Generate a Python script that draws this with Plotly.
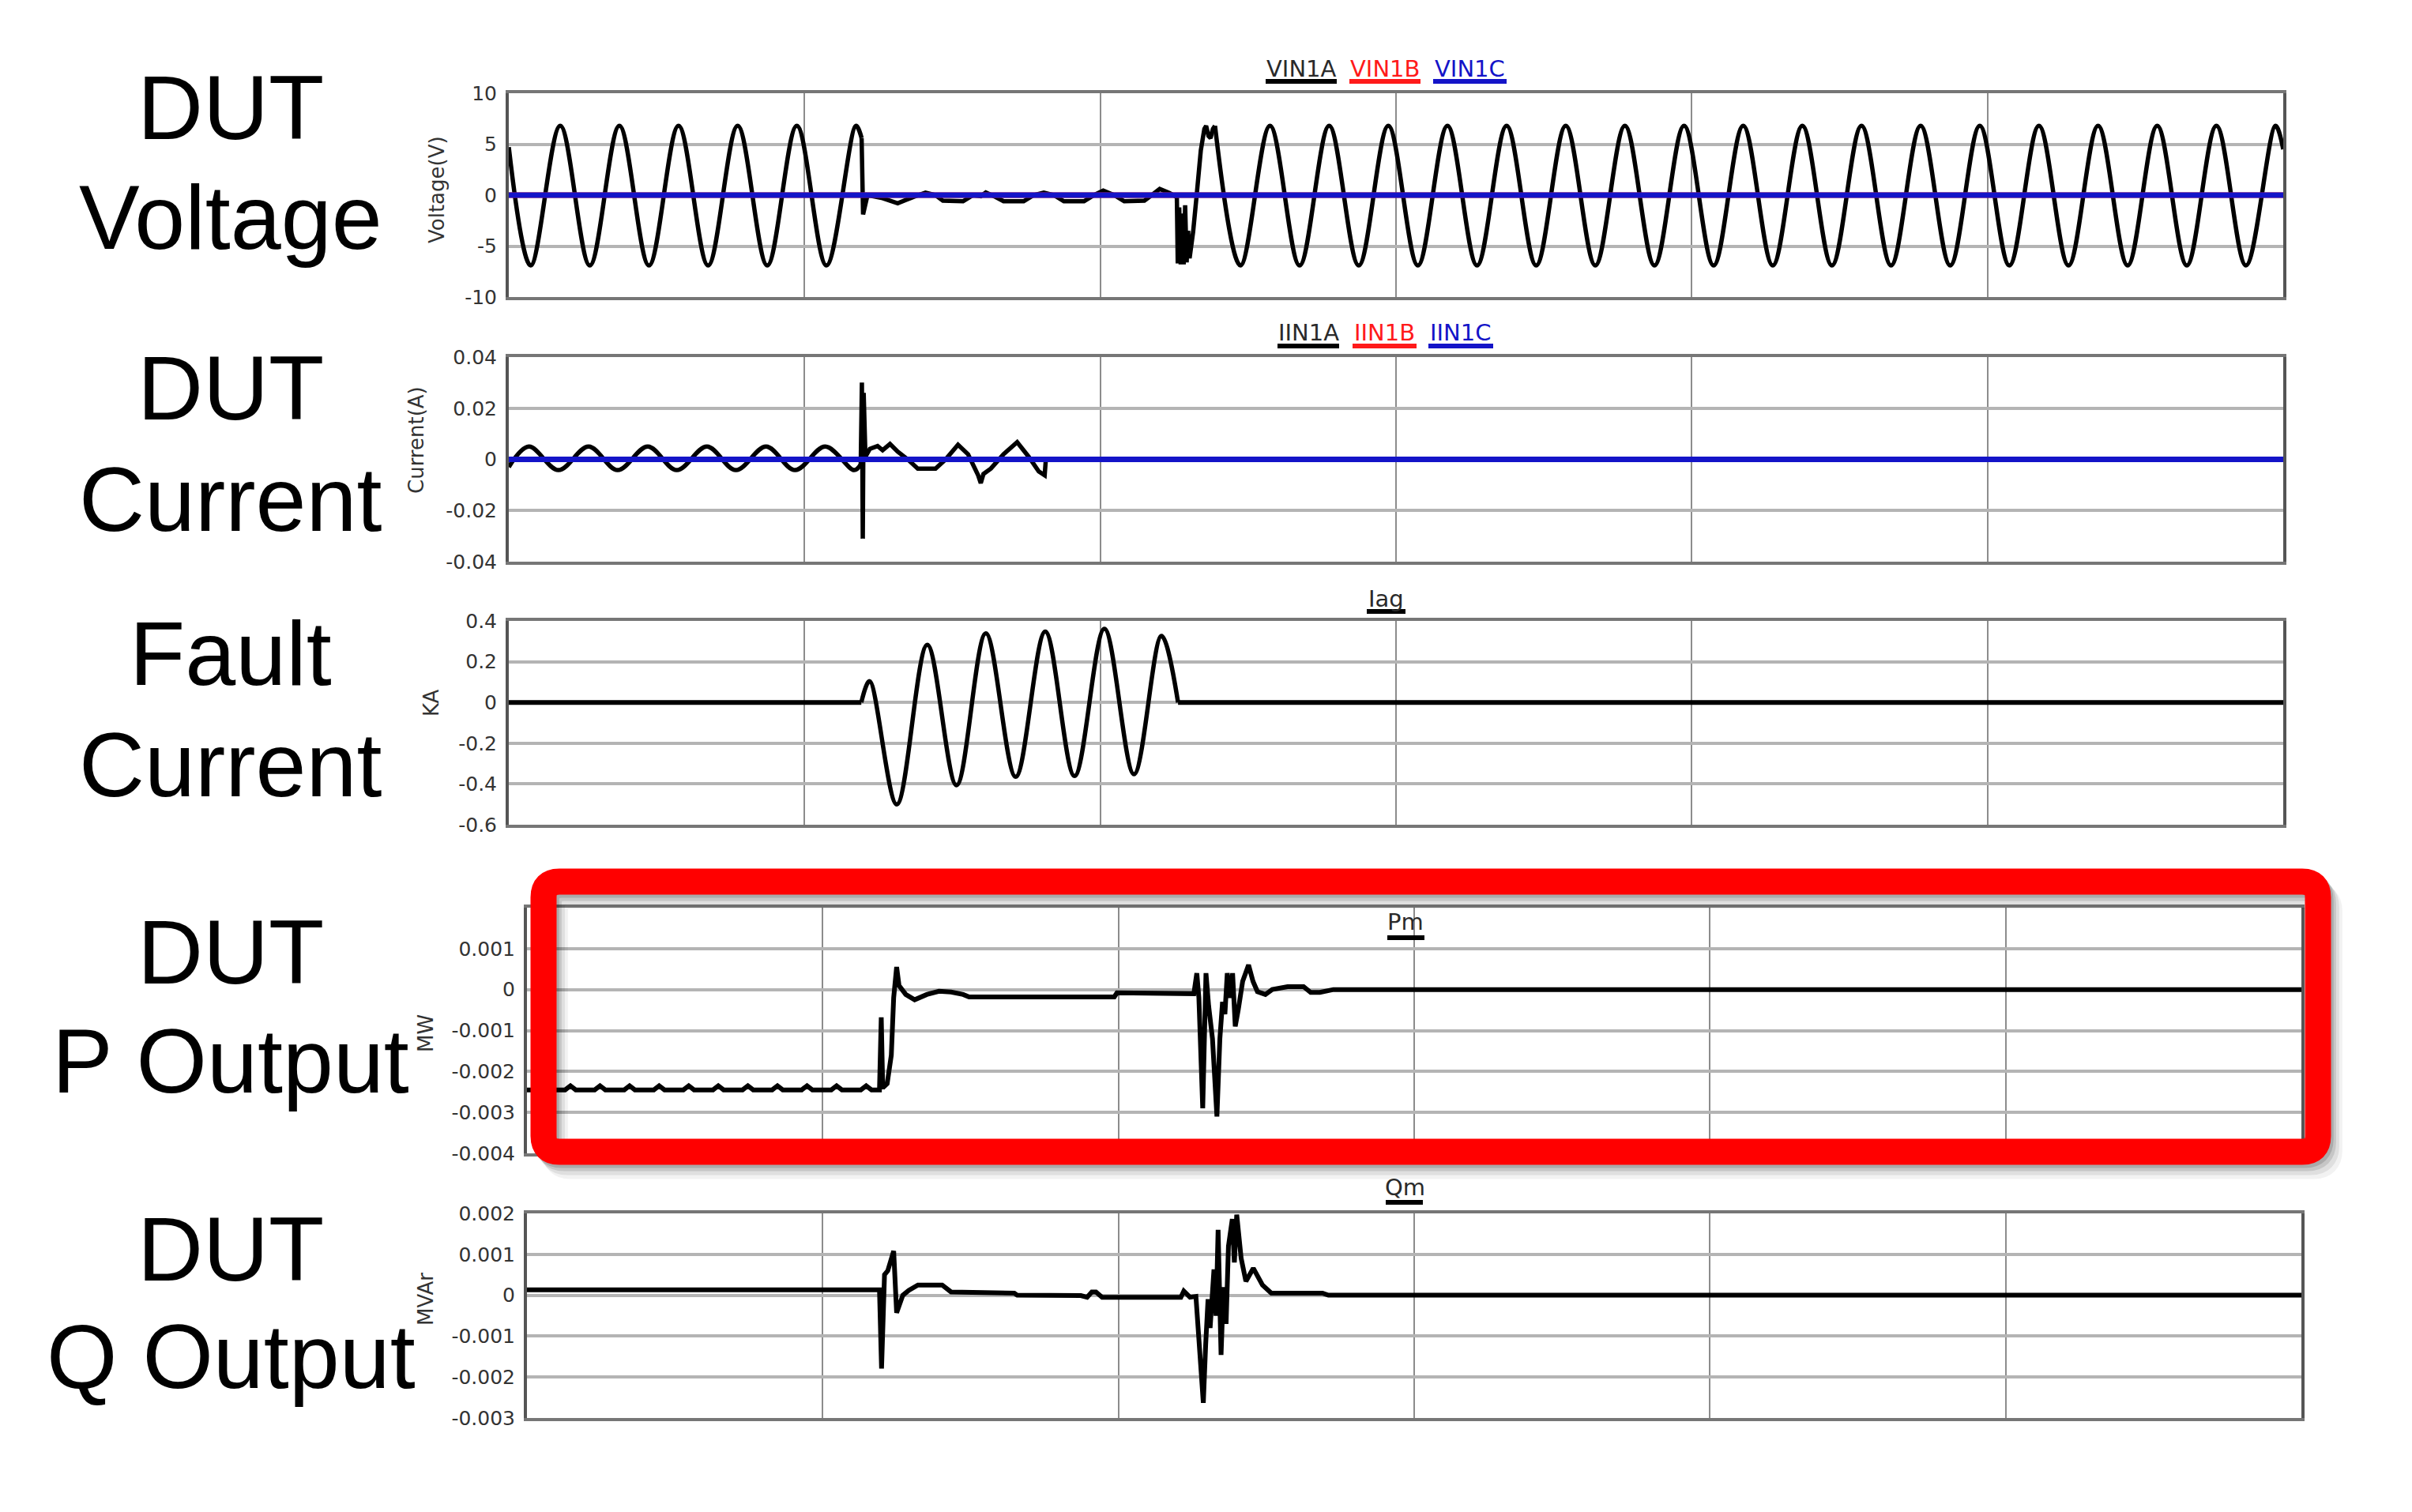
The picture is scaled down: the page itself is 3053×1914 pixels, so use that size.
import plotly.graph_objects as go

# ---- data (time in s, 0.1 s per division) ----
# DUT voltage, phase A (turning points of the wave, fault ripple, reclose burst)
va_pre_t = [0.0, 0.0074, 0.0174, 0.0274, 0.0374, 0.0474, 0.0574, 0.0674, 0.0774,
            0.0874, 0.0974, 0.1074, 0.1174, 0.1193]
va_pre_v = [4.7, -6.9, 6.8, -6.9, 6.8, -6.9, 6.8, -6.9, 6.8, -6.9, 6.8, -6.9, 6.8, 5.6]

va_mid_t = [0.1193, 0.1198, 0.1205, 0.1213, 0.1264, 0.1315, 0.1366, 0.1409, 0.1443, 0.1468,
            0.1536, 0.1570, 0.1596, 0.1613, 0.1647, 0.1673, 0.1741, 0.1775, 0.1809, 0.1843,
            0.1877, 0.1945, 0.1979, 0.2010, 0.2047, 0.2081, 0.2149, 0.2175, 0.2201, 0.2235,
            0.2259, 0.2262, 0.2267, 0.2272, 0.2277, 0.2282, 0.2287, 0.2292, 0.2297, 0.2302,
            0.2314, 0.2326, 0.2340, 0.2352, 0.2358, 0.2366, 0.2373, 0.2381, 0.2388]
va_mid_v = [5.6, -1.9, -1.0, 0.0, -0.3, -0.8, -0.2, 0.25, 0.0, -0.55,
            -0.6, 0.0, -0.1, 0.25, -0.2, -0.6, -0.6, 0.0, 0.25, 0.0,
            -0.6, -0.6, 0.0, 0.45, 0.0, -0.6, -0.55, 0.0, 0.6, 0.2,
            -0.2, -6.7, -1.2, -6.8, -1.8, -6.8, -1.0, -6.6, -3.5, -6.2,
            -3.6, 0.0, 4.4, 6.5, 6.8, 5.8, 5.6, 6.5, 6.8]

va_post_t = [0.2388, 0.2474, 0.2574, 0.2674, 0.2774, 0.2874, 0.2974, 0.3074, 0.3174, 0.3274,
             0.3374, 0.3474, 0.3574, 0.3674, 0.3774, 0.3874, 0.3974, 0.4074, 0.4174, 0.4274,
             0.4374, 0.4474, 0.4574, 0.4674, 0.4774, 0.4874, 0.4974, 0.5074, 0.5174, 0.5274,
             0.5374, 0.5474, 0.5574, 0.5674, 0.5774, 0.5874, 0.5974, 0.6]
va_post_v = [6.8, -6.9, 6.8, -6.9, 6.8, -6.9, 6.8, -6.9, 6.8, -6.9,
             6.8, -6.9, 6.8, -6.9, 6.8, -6.9, 6.8, -6.9, 6.8, -6.9,
             6.8, -6.9, 6.8, -6.9, 6.8, -6.9, 6.8, -6.9, 6.8, -6.9,
             6.8, -6.9, 6.8, -6.9, 6.8, -6.9, 6.8, 4.5]

# phases B and C sit on zero
vb_t, vb_v = [0.0, 0.6], [0.0, 0.0]
vc_t, vc_v = [0.0, 0.6], [0.0, 0.0]

# DUT current, phase A
ia_pre_t = [0.0, 0.0068, 0.0168, 0.0270, 0.0368, 0.0470, 0.0568, 0.0670, 0.0768,
            0.0870, 0.0968, 0.1070, 0.1168, 0.1190]
ia_pre_v = [-0.003, 0.005, -0.0042, 0.005, -0.0042, 0.005, -0.0042, 0.005, -0.0042,
            0.005, -0.0042, 0.005, -0.0042, -0.002]
ia_post_t = [0.1190, 0.1194, 0.1197, 0.1200, 0.1206, 0.1221, 0.1247, 0.1264, 0.1289, 0.1315,
             0.1349, 0.1383, 0.1443, 0.1477, 0.1519, 0.1553, 0.1587, 0.1596, 0.1605, 0.1630,
             0.1673, 0.1719, 0.1758, 0.1792, 0.1812, 0.1816, 0.6]
ia_post_v = [-0.002, 0.030, -0.031, 0.026, 0.001, 0.0041, 0.0052, 0.0036, 0.006, 0.003,
             0.0, -0.0036, -0.0036, 0.0, 0.0057, 0.002, -0.0062, -0.0093, -0.0057, -0.0036,
             0.002, 0.0067, 0.001, -0.0047, -0.0062, 0.0, 0.0]
ib_t, ib_v = [0.0, 0.6], [0.0, 0.0]
ic_t, ic_v = [0.0, 0.6], [0.0, 0.0]

# fault current Iag (kA)
iag_pre_t, iag_pre_v = [0.0, 0.1192], [0.0, 0.0]
iag_osc_t = [0.1192, 0.1220, 0.1312, 0.1415, 0.1514, 0.1613, 0.1714, 0.1814, 0.1913,
             0.2014, 0.2114, 0.2207, 0.2263]
iag_osc_v = [0.0, 0.104, -0.50, 0.283, -0.406, 0.339, -0.365, 0.348, -0.361,
             0.361, -0.352, 0.326, 0.0]
iag_post_t, iag_post_v = [0.2263, 0.6], [0.0, 0.0]

# DUT P output (MW)
pm_t = [0.0,
        0.0129, 0.0147, 0.0165, 0.0229, 0.0247, 0.0265, 0.0329, 0.0347, 0.0365,
        0.0429, 0.0447, 0.0465, 0.0529, 0.0547, 0.0565, 0.0629, 0.0647, 0.0665,
        0.0729, 0.0747, 0.0765, 0.0829, 0.0847, 0.0865, 0.0929, 0.0947, 0.0965,
        0.1029, 0.1047, 0.1065, 0.1129, 0.1147, 0.1165,
        0.1192, 0.1198, 0.1203, 0.1218, 0.1232, 0.1240, 0.1250, 0.1258, 0.1281, 0.1311,
        0.1352, 0.1393, 0.1434, 0.1475, 0.1495, 0.1986, 0.1995, 0.2211, 0.2255, 0.2265,
        0.2272, 0.2285, 0.2296, 0.2305, 0.2318, 0.2333, 0.2343, 0.2352, 0.2360, 0.2368,
        0.2378, 0.2386, 0.2395, 0.2405, 0.2420, 0.2440, 0.2455, 0.2470, 0.2497, 0.2520,
        0.2572, 0.2626, 0.2650, 0.2681, 0.2727, 0.6]
pm_v = [-0.00245,
        -0.00245, -0.00235, -0.00245, -0.00245, -0.00235, -0.00245, -0.00245, -0.00235, -0.00245,
        -0.00245, -0.00235, -0.00245, -0.00245, -0.00235, -0.00245, -0.00245, -0.00235, -0.00245,
        -0.00245, -0.00235, -0.00245, -0.00245, -0.00235, -0.00245, -0.00245, -0.00235, -0.00245,
        -0.00245, -0.00235, -0.00245, -0.00245, -0.00235, -0.00245,
        -0.00245, -0.00068, -0.0024, -0.0023, -0.0016, -0.0002, 0.00055, 0.0001, -0.00012, -0.00025,
        -0.00012, -0.00004, -0.00006, -0.00012, -0.00018, -0.00018, -0.00008, -0.00008, -0.0001, 0.0004,
        -0.0002, -0.0029, 0.0004, -0.0004, -0.0012, -0.0031, -0.0012, -0.0003, -0.0006, 0.0004,
        -0.0002, 0.0004, -0.0009, -0.0005, 0.0002, 0.0006, 0.0002, -0.00005, -0.00012, 0.0,
        0.00007, 0.00007, -0.00007, -0.00007, 0.0, 0.0]

# DUT Q output (MVAr)
qm_t = [0.0, 0.1192, 0.1199, 0.1209, 0.1220, 0.1232, 0.1240, 0.1250, 0.1271, 0.1291,
        0.1322, 0.1404, 0.1434, 0.1648, 0.1658, 0.1873, 0.1894, 0.1910, 0.1924, 0.1945,
        0.2211, 0.2221, 0.2242, 0.2262, 0.2272, 0.2287, 0.2295, 0.2303, 0.2310, 0.2317,
        0.2323, 0.2330, 0.2337, 0.2347, 0.2355, 0.2364, 0.2372, 0.2385, 0.2392, 0.2400,
        0.2415, 0.2431, 0.2456, 0.2487, 0.2517, 0.2690, 0.2710, 0.6]
qm_v = [0.00013, 0.00013, -0.00179, 0.0005, 0.0006, 0.0009, 0.00108, -0.00043, 0.0, 0.00012,
        0.00025, 0.00025, 0.00008, 0.00005, 0.0, -0.00001, -0.00005, 0.00008, 0.00008, -0.00005,
        -0.00005, 0.0001, -0.00005, -0.00003, -0.001, -0.00263, -0.0012, -0.0001, -0.0008, 0.0003,
        0.00063, -0.0005, 0.0016, -0.00146, 0.0002, -0.0007, 0.0012, 0.00186, 0.0008, 0.00197,
        0.0009, 0.00034, 0.00066, 0.00025, 0.00005, 0.00005, 0.0, 0.0]

# tick labels
v_ticks = [-10, -5, 0, 5, 10]
v_ticktext = ["-10", "-5", "0", "5", "10"]
i_ticks = [-0.04, -0.02, 0, 0.02, 0.04]
i_ticktext = ["-0.04", "-0.02", "0", "0.02", "0.04"]
f_ticks = [-0.6, -0.4, -0.2, 0, 0.2, 0.4]
f_ticktext = ["-0.6", "-0.4", "-0.2", "0", "0.2", "0.4"]
p_ticks = [-0.004, -0.003, -0.002, -0.001, 0, 0.001]
p_ticktext = ["-0.004", "-0.003", "-0.002", "-0.001", "0", "0.001"]
q_ticks = [-0.003, -0.002, -0.001, 0, 0.001, 0.002]
q_ticktext = ["-0.003", "-0.002", "-0.001", "0", "0.001", "0.002"]

row_labels = [("DUT", "Voltage"), ("DUT", "Current"), ("Fault", "Current"),
              ("DUT", "P Output"), ("DUT", "Q Output")]
axis_titles = ["Voltage(V)", "Current(A)", "KA", "MW", "MVAr"]

# ---- layout helpers (pixel -> paper) ----
W, H = 3053, 1914


def px(x):
    return x / W


def py(y):
    return 1 - y / H


BLACK = "#000000"
RED = "#ff1a1a"
BLUE = "#1414c8"
TICKFONT = dict(family="DejaVu Sans", size=25, color="#333333")

fig = go.Figure()


def add_line(x, y, ax, color=BLACK, width=5.5, shape="linear"):
    fig.add_trace(go.Scatter(
        x=x, y=y, mode="lines", xaxis="x" + ax, yaxis="y" + ax,
        line=dict(color=color, width=width, shape=shape, smoothing=1),
        hoverinfo="skip", showlegend=False))


# panel 1: voltage
add_line(va_pre_t, va_pre_v, "", shape="spline")
add_line(va_mid_t, va_mid_v, "")
add_line(va_post_t, va_post_v, "", shape="spline")
add_line(vb_t, vb_v, "", color=RED, width=7)
add_line(vc_t, vc_v, "", color=BLUE, width=7)

# panel 2: current
add_line(ia_pre_t, ia_pre_v, "2", shape="spline")
add_line(ia_post_t, ia_post_v, "2")
add_line(ib_t, ib_v, "2", color=RED, width=7)
add_line(ic_t, ic_v, "2", color=BLUE, width=7)

# panel 3: fault current
add_line(iag_pre_t, iag_pre_v, "3", width=6)
add_line(iag_osc_t, iag_osc_v, "3", width=5.5, shape="spline")
add_line(iag_post_t, iag_post_v, "3", width=6)

# panel 4 / 5: P and Q
add_line(pm_t, pm_v, "4", width=6)
add_line(qm_t, qm_v, "5", width=6)

# ---- axes ----
panels = [
    # (x px range, y px range, y range, tickvals, ticktext)
    ((644, 2890), (118, 376), [-10, 10], v_ticks, v_ticktext),
    ((644, 2890), (452, 711), [-0.04, 0.04], i_ticks, i_ticktext),
    ((644, 2890), (786, 1044), [-0.6, 0.4], f_ticks, f_ticktext),
    ((667, 2913), (1149, 1460), [-0.004, 0.002], p_ticks, p_ticktext),
    ((667, 2913), (1536, 1795), [-0.003, 0.002], q_ticks, q_ticktext),
]

layout = {}
for k, (xr, yr, rng, tv, tt) in enumerate(panels):
    sfx = "" if k == 0 else str(k + 1)
    layout["xaxis" + sfx] = dict(
        domain=[px(xr[0]), px(xr[1])], range=[0, 0.6], dtick=0.1, tick0=0,
        showticklabels=False, ticks="", showgrid=True, gridcolor="#8c8c8c", gridwidth=2,
        zeroline=False, showline=True, linecolor="#767676", linewidth=4, mirror=True,
        anchor="y" + sfx, fixedrange=True, automargin=False)
    layout["yaxis" + sfx] = dict(
        domain=[py(yr[1]), py(yr[0])], range=rng, tickvals=tv, ticktext=tt,
        tickfont=TICKFONT, ticks="", ticklabelstandoff=6,
        showgrid=True, gridcolor="#b4b4b4", gridwidth=4, zeroline=False,
        showline=True, linecolor="#555555", linewidth=4, mirror=True,
        anchor="x" + sfx, fixedrange=True, automargin=False)

fig.update_layout(**layout)

# ---- annotations ----
ann = []
big = dict(family="Liberation Sans, Arial, sans-serif", size=115, color="black")
label_y = [(136, 275), (491, 632), (827, 968), (1205, 1343), (1581, 1717)]
for (l1, l2), (y1, y2) in zip(row_labels, label_y):
    for txt, yy in ((l1, y1), (l2, y2)):
        ann.append(dict(text=txt, x=px(292), y=py(yy), xref="paper", yref="paper",
                        xanchor="center", yanchor="middle", showarrow=False, font=big))

title_pos = [(553, 240), (527, 557), (546, 890), (539, 1308), (539, 1645)]
for txt, (xx, yy) in zip(axis_titles, title_pos):
    ann.append(dict(text=txt, x=px(xx), y=py(yy), xref="paper", yref="paper",
                    xanchor="center", yanchor="middle", showarrow=False, textangle=-90,
                    font=dict(family="DejaVu Sans", size=26, color="#333333")))

# legend-style trace names with coloured underline
legend_items = [
    ("VIN1A", BLACK, 1647, 87, 1602, 1692, 103),
    ("VIN1B", RED, 1753, 87, 1708, 1798, 103),
    ("VIN1C", BLUE, 1860, 87, 1814, 1907, 103),
    ("IIN1A", BLACK, 1656, 421, 1617, 1695, 438),
    ("IIN1B", RED, 1752, 421, 1712, 1793, 438),
    ("IIN1C", BLUE, 1849, 421, 1808, 1890, 438),
    ("Iag", BLACK, 1754, 758, 1730, 1779, 774),
    ("Pm", BLACK, 1779, 1167, 1756, 1803, 1187),
    ("Qm", BLACK, 1778, 1503, 1754, 1801, 1522),
]
shapes = []
for txt, col, tx, ty, u0, u1, uy in legend_items:
    tcol = "#2a2a2a" if col == BLACK else col
    ann.append(dict(text=txt, x=px(tx), y=py(ty), xref="paper", yref="paper",
                    xanchor="center", yanchor="middle", showarrow=False,
                    font=dict(family="DejaVu Sans", size=29, color=tcol)))
    shapes.append(dict(type="line", xref="paper", yref="paper",
                       x0=px(u0), x1=px(u1), y0=py(uy), y1=py(uy),
                       line=dict(color=col, width=6)))


# ---- red highlight box with soft shadow ----
def rounded_path(l, t, r, b, rad, dx=0, dy=0):
    l, r, t, b = l + dx, r + dx, t + dy, b + dy
    pts = [
        f"M {px(l + rad)},{py(t)}", f"L {px(r - rad)},{py(t)}",
        f"Q {px(r)},{py(t)} {px(r)},{py(t + rad)}", f"L {px(r)},{py(b - rad)}",
        f"Q {px(r)},{py(b)} {px(r - rad)},{py(b)}", f"L {px(l + rad)},{py(b)}",
        f"Q {px(l)},{py(b)} {px(l)},{py(b - rad)}", f"L {px(l)},{py(t + rad)}",
        f"Q {px(l)},{py(t)} {px(l + rad)},{py(t)}", "Z",
    ]
    return " ".join(pts)


box = (688, 1116, 2934, 1458)
for off, alpha in ((18, 0.05), (13, 0.08), (8, 0.11), (4, 0.14)):
    shapes.append(dict(type="path", xref="paper", yref="paper",
                       path=rounded_path(*box, 20, dx=off * 0.8, dy=off),
                       line=dict(color=f"rgba(0,0,0,{alpha})", width=33)))
shapes.append(dict(type="path", xref="paper", yref="paper",
                   path=rounded_path(*box, 20), line=dict(color="#ff0000", width=33)))

fig.update_layout(
    width=W, height=H, margin=dict(l=0, r=0, t=0, b=0, autoexpand=False),
    paper_bgcolor="white", plot_bgcolor="white", showlegend=False,
    annotations=ann, shapes=shapes,
)

fig.write_html("out.html", config={"displayModeBar": False},
               post_script="document.body.style.margin='0';")
